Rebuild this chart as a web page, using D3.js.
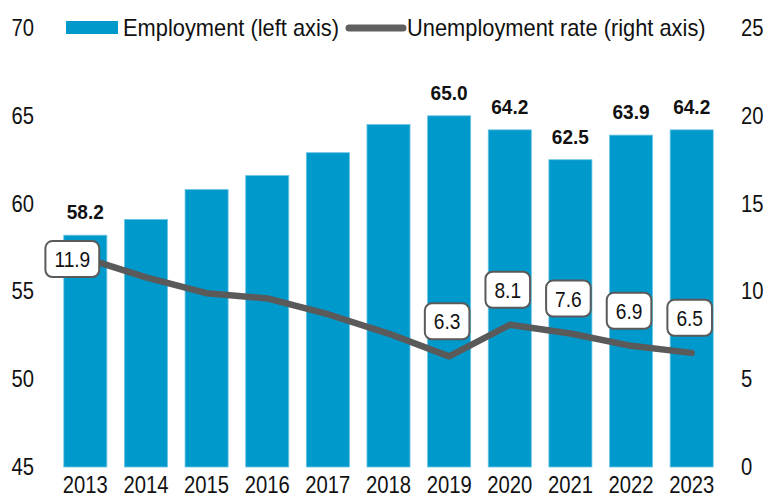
<!DOCTYPE html>
<html>
<head>
<meta charset="utf-8">
<script src="https://cdn.jsdelivr.net/npm/d3@7"></script>
<style>
  body { margin: 0; background: #fff; }
  text { font-family: "Liberation Sans", Arial, sans-serif; fill: #111; }
</style>
</head>
<body>
<div id="chart"></div>
<script>
// chart data
const years = ["2013", "2014", "2015", "2016", "2017", "2018", "2019", "2020", "2021", "2022", "2023"];
const employment = [58.2, 59.1, 60.8, 61.6, 62.9, 64.5, 65.0, 64.2, 62.5, 63.9, 64.2];
const unemployment = [11.9, 10.8, 9.9, 9.6, 8.7, 7.6, 6.3, 8.1, 7.6, 6.9, 6.5];
const labelledYears = ["2013", "2019", "2020", "2021", "2022", "2023"];
const leftTicks = [45, 50, 55, 60, 65, 70];
const rightTicks = [0, 5, 10, 15, 20, 25];

const width = 767, height = 497;
const plotTop = 28, plotBottom = 467;
const blue = "#0099cb", grey = "#5a5a5a";

const svg = d3.select("#chart").append("svg")
  .attr("width", width)
  .attr("height", height);

// scales
const x = d3.scaleBand().domain(years).range([55, 722]).paddingInner(0.29).paddingOuter(0.145);
const yLeft = d3.scaleLinear().domain([45, 70]).range([plotBottom, plotTop]);
const yRight = d3.scaleLinear().domain([0, 25]).range([plotBottom, plotTop]);
const cx = d => x(d) + x.bandwidth() / 2;

// narrow-ish text helper
function txt(g, tx, ty, s, sx, anchor) {
  return g.append("text")
    .attr("transform", `translate(${tx},${ty}) scale(${sx},1)`)
    .attr("text-anchor", anchor || "middle")
    .text(s);
}

// bars
svg.append("g").selectAll("rect")
  .data(employment)
  .enter()
  .append("rect")
  .attr("x", (d, i) => x(years[i]))
  .attr("y", d => yLeft(d))
  .attr("width", x.bandwidth())
  .attr("height", d => plotBottom - yLeft(d))
  .attr("fill", blue)
  .attr("stroke", "#6cc4e4")
  .attr("stroke-width", 0.8);

// bold value labels above bars
const valG = svg.append("g").style("font-weight", "bold").style("font-size", "20.5px");
years.forEach((yr, i) => {
  if (!labelledYears.includes(yr)) return;
  txt(valG, cx(yr), yLeft(employment[i]) - 16, employment[i].toFixed(1), 0.93);
});

// unemployment line
const line = d3.line()
  .x((d, i) => cx(years[i]))
  .y(d => yRight(d));

svg.append("path")
  .datum(unemployment)
  .attr("d", line)
  .attr("fill", "none")
  .attr("stroke", grey)
  .attr("stroke-width", 6.5)
  .attr("stroke-linecap", "round")
  .attr("stroke-linejoin", "round");

// boxed labels for the rate, box sized to its text
const boxG = svg.append("g").style("font-size", "22px");
const sx = 0.87;
years.forEach((yr, i) => {
  if (!labelledYears.includes(yr)) return;
  let bx = cx(yr) - 2, by = yRight(unemployment[i]) - 35;
  if (i === 0) { bx = cx(yr) - 13; by = yRight(unemployment[i]) + 1; }
  const rect = boxG.append("rect");
  const t = txt(boxG, bx, by + 8, unemployment[i].toFixed(1), sx);
  const w = t.node().getComputedTextLength() * sx + 18;
  rect.attr("x", bx - w / 2)
    .attr("y", by - 18)
    .attr("width", w)
    .attr("height", 36)
    .attr("rx", 7)
    .attr("fill", "#fff")
    .attr("stroke", grey)
    .attr("stroke-width", 2);
});

// axes labels
const axG = svg.append("g").style("font-size", "23px");
leftTicks.forEach(t => txt(axG, 34, yLeft(t) + 8, t, 0.88, "end"));
rightTicks.forEach(t => txt(axG, 741, yRight(t) + 8, t, 0.88, "start"));
years.forEach(yr => txt(axG, cx(yr), 493, yr, 0.88));

// legend
const lg = svg.append("g").style("font-size", "23px");
lg.append("rect").attr("x", 66).attr("y", 21).attr("width", 52).attr("height", 13).attr("fill", blue);
txt(lg, 123, 36, "Employment (left axis)", 0.95, "start");
lg.append("line")
  .attr("x1", 349).attr("x2", 403).attr("y1", 28).attr("y2", 28)
  .attr("stroke", "#606060").attr("stroke-width", 7).attr("stroke-linecap", "round");
txt(lg, 407, 36, "Unemployment rate (right axis)", 0.95, "start");
</script>
</body>
</html>
